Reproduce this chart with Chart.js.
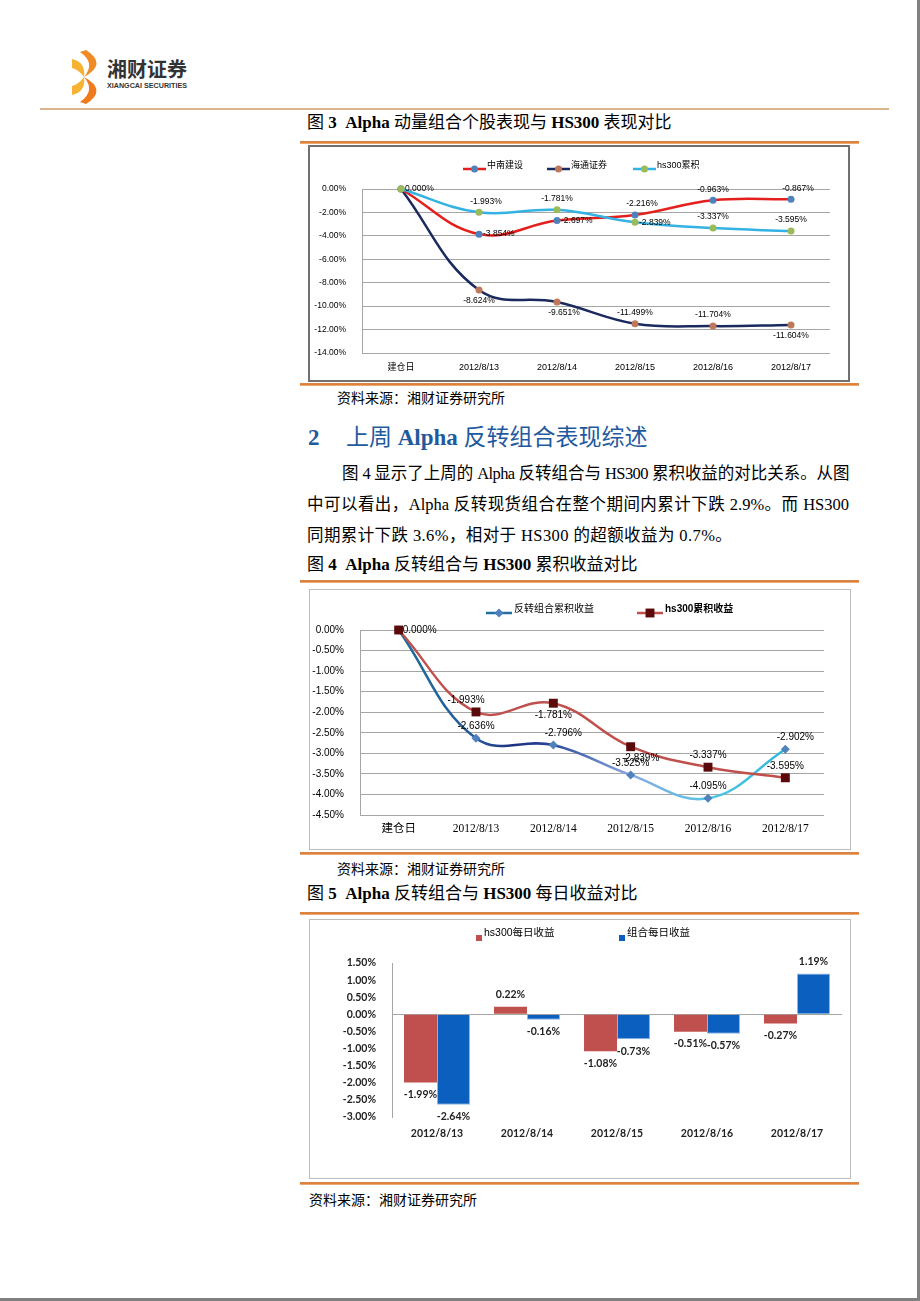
<!DOCTYPE html>
<html><head><meta charset="utf-8">
<script src="https://cdn.jsdelivr.net/npm/chart.js@4/dist/chart.umd.min.js"></script>
<style>
html,body{margin:0;padding:0;background:#fff;}
#page{position:relative;width:917px;height:1298px;background:#fff;border-right:3px solid #808080;border-bottom:3px solid #808080;overflow:hidden;}
.abs{position:absolute;white-space:nowrap;}
.serif{font-family:'Liberation Serif','Noto Sans CJK SC',serif;}
.cap{font-size:17px;line-height:20px;color:#000;}
.rule{position:absolute;left:300px;width:559px;height:3px;background:linear-gradient(#cf8a55,#e27f34 50%,#efbf94);}
.src{font-family:'Noto Sans CJK SC',sans-serif;font-size:14px;line-height:20px;color:#000;}
.box{position:absolute;box-sizing:border-box;background:#fff;}
.box canvas{position:absolute;left:0;top:0;}
.para{font-size:16.5px;line-height:22px;color:#000;}
.just{text-align:justify;text-align-last:justify;}
</style></head>
<body>
<div id="page">
  <svg class="abs" style="left:0;top:0" width="200" height="110">
    <path d="M86,50 Q108,64 84,77 Q96,63 80,52 Z" fill="#f08a24"/>
    <path d="M86,104 Q108,90 84,77 Q96,91 80,102 Z" fill="#ef7b1c"/>
    <path d="M72,59 Q86,62 84,77 Q79,70 72,68 Z" fill="#f8b233"/>
    <path d="M72,95 Q86,92 84,77 Q79,84 72,86 Z" fill="#f8b233"/>
    <text x="107" y="77" textLength="80" lengthAdjust="spacingAndGlyphs" font-family="Noto Sans CJK SC" font-weight="bold" font-size="20" fill="#333">湘财证券</text>
    <text x="107" y="88" textLength="80" lengthAdjust="spacingAndGlyphs" font-family="Liberation Sans" font-weight="bold" font-size="7.5" fill="#333">XIANGCAI SECURITIES</text>
  </svg>
  <div class="abs" style="left:40px;top:108px;width:849px;height:2px;background:#d9b48c;"></div>

  <div class="abs serif cap" style="left:307px;top:113px;">图 <b>3</b>&nbsp;&nbsp;<b>Alpha</b> 动量组合个股表现与 <b>HS300</b> 表现对比</div>
  <div class="rule" style="top:141px;"></div>
  <div class="box" style="left:308px;top:145px;width:542px;height:237px;border:2px solid #707070;"><canvas id="c1" width="538" height="233"></canvas></div>
  <div class="rule" style="top:383px;"></div>
  <div class="abs src" style="left:337px;top:387px;">资料来源：湘财证券研究所</div>

  <div class="abs serif" style="left:308px;top:424px;font-size:23px;line-height:28px;color:#1f5a9e;font-weight:bold;">2</div>
  <div class="abs serif" style="left:346px;top:424px;font-size:23px;line-height:28px;color:#1f5a9e;">上周 <b>Alpha</b> 反转组合表现综述</div>

  <div class="abs serif para just" style="left:342px;top:463px;width:507px;letter-spacing:-0.6px;">图 4 显示了上周的 Alpha 反转组合与 HS300 累积收益的对比关系。从图</div>
  <div class="abs serif para just" style="left:307px;top:494px;width:542px;">中可以看出，Alpha 反转现货组合在整个期间内累计下跌 2.9%。而 HS300</div>
  <div class="abs serif para" style="left:307px;top:525px;letter-spacing:0.4px;">同期累计下跌 3.6%，相对于 HS300 的超额收益为 0.7%。</div>

  <div class="abs serif cap" style="left:307px;top:555px;">图 <b>4</b>&nbsp;&nbsp;<b>Alpha</b> 反转组合与 <b>HS300</b> 累积收益对比</div>
  <div class="rule" style="top:580px;"></div>
  <div class="box" style="left:309px;top:589px;width:542px;height:261px;border:1px solid #bdbdbd;"><canvas id="c2" width="540" height="259"></canvas></div>
  <div class="rule" style="top:852px;"></div>
  <div class="abs src" style="left:337px;top:858px;">资料来源：湘财证券研究所</div>

  <div class="abs serif cap" style="left:307px;top:884px;">图 <b>5</b>&nbsp;&nbsp;<b>Alpha</b> 反转组合与 <b>HS300</b> 每日收益对比</div>
  <div class="rule" style="top:912px;"></div>
  <div class="box" style="left:309px;top:919px;width:542px;height:260px;border:1px solid #bdbdbd;"><canvas id="c3" width="540" height="258"></canvas></div>
  <div class="rule" style="top:1182px;"></div>
  <div class="abs src" style="left:309px;top:1189px;">资料来源：湘财证券研究所</div>
</div>

<script>
// ---------- data ----------
const categories = ['建仓日', '2012/8/13', '2012/8/14', '2012/8/15', '2012/8/16', '2012/8/17'];
const zhongnan  = [0, -3.854, -2.697, -2.216, -0.963, -0.867];
const haitong   = [0, -8.624, -9.651, -11.499, -11.704, -11.604];
const hs300Cum  = [0, -1.993, -1.781, -2.839, -3.337, -3.595];
const reversalCum = [0, -2.636, -2.796, -3.525, -4.095, -2.902];
const days = ['2012/8/13', '2012/8/14', '2012/8/15', '2012/8/16', '2012/8/17'];
const hs300Daily = [-1.99, 0.22, -1.08, -0.51, -0.27];
const portDaily  = [-2.64, -0.16, -0.73, -0.57, 1.19];
const yRange1 = [-14, 0, 2];
const yRange2 = [-4.5, 0, 0.5];
const yRange3 = [-3, 1.5, 0.5];
const seriesNames1 = ['中南建设', '海通证券', 'hs300累积'];
const seriesNames2 = ['反转组合累积收益', 'hs300累积收益'];
const seriesNames3 = ['hs300每日收益', '组合每日收益'];

Chart.defaults.font.family = "'Liberation Sans','Noto Sans CJK SC',sans-serif";
Chart.defaults.color = '#000';
const H = Chart.helpers;

// legend drawn Excel-style (line + marker / square)
const xlLegend = {
  id: 'xlLegend',
  afterDraw(chart, args, o) {
    if (!o || !o.xs) return;
    const ctx = chart.ctx;
    ctx.save();
    chart.data.datasets.forEach((ds, i) => {
      const x = o.xs[i];
      if (o.square) {
        ctx.fillStyle = ds.backgroundColor;
        ctx.fillRect(x, o.y - o.square / 2, o.square, o.square);
      } else {
        ctx.strokeStyle = ds.legendLine || ds.borderColor;
        ctx.lineWidth = o.lineWidth;
        ctx.beginPath(); ctx.moveTo(x, o.y); ctx.lineTo(x + o.lineLen, o.y); ctx.stroke();
        ctx.fillStyle = ds.pointBackgroundColor; ctx.strokeStyle = ds.pointBackgroundColor;
        H.drawPoint(ctx, {pointStyle: ds.pointStyle || 'circle', radius: ds.pointRadius || o.radius, rotation: 0, borderWidth: 0}, x + o.lineLen / 2, o.y);
      }
      ctx.fillStyle = o.color || '#000';
      ctx.font = (ds.legendBold ? 'bold ' : '') + o.font;
      ctx.textAlign = 'left'; ctx.textBaseline = 'middle';
      ctx.fillText(ds.label, x + o.textDx, o.y + o.textDy);
    });
    ctx.restore();
  }
};

// value labels
const ptLabels = {
  id: 'ptLabels',
  afterDatasetsDraw(chart, args, o) {
    if (!o || !o.font) return;
    const ctx = chart.ctx;
    ctx.save();
    ctx.font = o.font; ctx.fillStyle = o.color || '#000'; ctx.textBaseline = 'middle'; ctx.textAlign = 'center';
    chart.data.datasets.forEach((ds, di) => {
      const meta = chart.getDatasetMeta(di);
      meta.data.forEach((el, i) => {
        const v = ds.data[i];
        const p = o.place ? o.place[di][i] : (v >= 0 ? 'n' : 's');
        if (!p) return;
        const txt = v.toFixed(o.digits) + '%';
        const w = ctx.measureText(txt).width;
        let x = el.x, y = el.y;
        if (p === 'e') { x += w / 2 + o.gap; }
        else {
          if (p.includes('n')) y -= o.dist;
          if (p.includes('s')) y += o.dist;
          if (p.includes('e')) x += o.shift;
          if (p.includes('w')) x -= o.shift;
        }
        ctx.fillText(txt, x, y);
      });
    });
    ctx.restore();
  }
};

const pct2 = v => Number(v).toFixed(2) + '%';

// ---------- chart 1 ----------
new Chart(document.getElementById('c1'), {
  type: 'line',
  data: {
    labels: categories,
    datasets: [
      {label: seriesNames1[0], data: zhongnan, borderColor: '#e3201b', pointBackgroundColor: '#4f81bd', pointBorderColor: '#4f81bd', order: 1},
      {label: seriesNames1[1], data: haitong, borderColor: '#1b2a5e', pointBackgroundColor: '#c0785a', pointBorderColor: '#c0785a', order: 2},
      {label: seriesNames1[2], data: hs300Cum, borderColor: '#33b2e3', pointBackgroundColor: '#9bbb59', pointBorderColor: '#9bbb59', order: 0}
    ]
  },
  options: {
    responsive: false, animation: false,
    datasets: {line: {borderWidth: 2.5, tension: 0.4, pointRadius: 3.5, pointBorderWidth: 0, clip: false}},
    layout: {padding: {top: 42, right: 18, left: 0, bottom: 0}},
    plugins: {
      legend: {display: false}, tooltip: {enabled: false},
      xlLegend: {xs: [153, 237, 323], y: 22, radius: 3.5, lineLen: 23, lineWidth: 2.5, textDx: 24, textDy: -3, font: "9px 'Liberation Sans','Noto Sans CJK SC',sans-serif"},
      ptLabels: {font: "8.5px 'Liberation Sans',sans-serif", digits: 3, dist: 11, shift: 7, gap: 4,
        place: [[null, 'e', 'e', 'ne', 'n', 'ne'], [null, 's', 'se', 'n', 'n', 's'], ['e', 'ne', 'n', 'e', 'n', 'n']]}
    },
    scales: {
      x: {offset: true, grid: {display: false, drawTicks: false}, border: {display: false},
          ticks: {font: {size: 9}, color: '#000', padding: 9, maxRotation: 0, autoSkip: false},
          afterFit(s) { s.height = 27; }},
      y: {min: yRange1[0], max: yRange1[1],
          ticks: {stepSize: yRange1[2], callback: pct2, font: {size: 8.5}, color: '#000', padding: 16},
          grid: {color: '#a6a6a6', drawTicks: false}, border: {display: true, color: '#a6a6a6'},
          afterFit(s) { s.width = 52; }}
    }
  },
  plugins: [xlLegend, ptLabels]
});

// ---------- chart 2 ----------
function reversalGradient(c) {
  const chart = c.chart, area = chart.chartArea;
  if (!area) return '#1f6fa0';
  const g = chart.ctx.createLinearGradient(area.left, 0, area.right, 0);
  g.addColorStop(0.083, '#1c6f9a');
  g.addColorStop(0.25, '#25589a');
  g.addColorStop(0.33, '#1f2f80');
  g.addColorStop(0.417, '#2c4a9a');
  g.addColorStop(0.583, '#8aa8e0');
  g.addColorStop(0.75, '#55c6e6');
  g.addColorStop(0.917, '#2cb8d8');
  return g;
}
new Chart(document.getElementById('c2'), {
  type: 'line',
  data: {
    labels: categories,
    datasets: [
      {label: seriesNames2[0], data: reversalCum, borderColor: reversalGradient, legendLine: '#1f6fa0', pointStyle: 'rectRot', pointRadius: 4.5, pointBackgroundColor: '#4f81bd', pointBorderColor: '#4f81bd', order: 1},
      {label: seriesNames2[1], data: hs300Cum, borderColor: '#c0504d', pointStyle: 'rect', pointRadius: 6.3, pointBackgroundColor: '#5a0a0a', pointBorderColor: '#5a0a0a', legendBold: true, order: 0}
    ]
  },
  options: {
    responsive: false, animation: false,
    datasets: {line: {borderWidth: 2.5, tension: 0.4, pointBorderWidth: 0, clip: false}},
    layout: {padding: {top: 40, right: 26, left: 0, bottom: 0}},
    plugins: {
      legend: {display: false}, tooltip: {enabled: false},
      xlLegend: {xs: [176, 327], y: 23, lineLen: 26, lineWidth: 2.5, textDx: 28, textDy: -4, font: "10px 'Liberation Sans','Noto Sans CJK SC',sans-serif"},
      ptLabels: {font: "10px 'Liberation Sans',sans-serif", digits: 3, dist: 12, shift: 10, gap: 4,
        place: [[null, 'n', 'ne', 'n', 'n', 'ne'], ['e', 'nw', 's', 'se', 'n', 'n']]}
    },
    scales: {
      x: {offset: true, grid: {display: false, drawTicks: false}, border: {display: false},
          ticks: {font: {family: "'Liberation Serif','Noto Sans CJK SC',serif", size: 11.5}, color: '#000', padding: 7, maxRotation: 0, autoSkip: false},
          afterFit(s) { s.height = 34; }},
      y: {min: yRange2[0], max: yRange2[1],
          ticks: {stepSize: yRange2[2], callback: pct2, font: {size: 10}, color: '#000', padding: 16},
          grid: {color: '#a6a6a6', drawTicks: false}, border: {display: true, color: '#a6a6a6'},
          afterFit(s) { s.width = 50; }}
    }
  },
  plugins: [xlLegend, ptLabels]
});

// ---------- chart 3 ----------
new Chart(document.getElementById('c3'), {
  type: 'bar',
  data: {
    labels: days,
    datasets: [
      {label: seriesNames3[0], data: hs300Daily, backgroundColor: '#c0504d', borderWidth: 0},
      {label: seriesNames3[1], data: portDaily, backgroundColor: '#0b5fbf', borderColor: '#8fb4e3', borderWidth: 1}
    ]
  },
  options: {
    responsive: false, animation: false,
    datasets: {bar: {categoryPercentage: 0.733, barPercentage: 1.0}},
    layout: {padding: {top: 43, right: 8, left: 0, bottom: 0}},
    plugins: {
      legend: {display: false}, tooltip: {enabled: false},
      xlLegend: {xs: [166, 309], y: 18, square: 6, textDx: 8, textDy: -5, font: "10.5px 'Liberation Sans','Noto Sans CJK SC',sans-serif"},
      ptLabels: {font: "bold 10.5px Lato,'Liberation Sans',sans-serif", color: '#222', digits: 2, dist: 12}
    },
    scales: {
      x: {grid: {display: false, drawTicks: false}, border: {display: false},
          ticks: {font: {family: "Lato,'Liberation Sans',sans-serif", size: 10.5, weight: 'bold'}, color: '#222', padding: 10, maxRotation: 0, autoSkip: false},
          afterFit(s) { s.height = 61; }},
      y: {min: yRange3[0], max: yRange3[1],
          ticks: {stepSize: yRange3[2], callback: pct2, font: {family: "Lato,'Liberation Sans',sans-serif", size: 10.5, weight: 'bold'}, color: '#222', padding: 16},
          grid: {color: c => (c.tick && c.tick.value === 0) ? '#a6a6a6' : 'rgba(0,0,0,0)', drawTicks: false},
          border: {display: true, color: '#a6a6a6'},
          afterFit(s) { s.width = 82; }}
    }
  },
  plugins: [xlLegend, ptLabels]
});
</script>
</body></html>
